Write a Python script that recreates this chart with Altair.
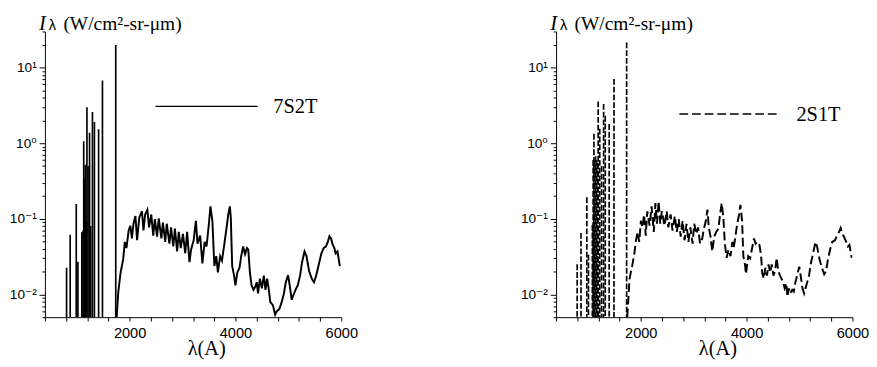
import altair as alt
import pandas as pd

# ---------------- data ----------------
# Panel 1: 7S2T  (solid)
spk1_wl = [809, 877, 992, 1023, 1097, 1120, 1133, 1150, 1163, 1180, 1194, 1215, 1243, 1265, 1298, 1335, 1414, 1487, 1738]
spk1_val = [0.0225, 0.0615, 0.157, 0.027, 0.0665, 0.07, 1.06, 0.35, 0.52, 0.09, 2.98, 0.5, 1.37, 0.08, 2.58, 1.9, 1.53, 6.76, 19.9]

cont1_wl = [1756, 1786, 1830, 1878, 1909, 1940, 1982, 2013, 2043, 2073, 2110, 2141, 2183, 2233, 2262,
            2293, 2336, 2367, 2409, 2446, 2477, 2519, 2550, 2600, 2629, 2673, 2702, 2752, 2783, 2825,
            2856, 2898, 2929, 2966, 3008, 3051, 3087, 3131, 3161, 3210, 3252, 3283, 3333, 3375, 3417,
            3454, 3498, 3527, 3564, 3601, 3637, 3668, 3710, 3745, 3791, 3833, 3864, 3894, 3912, 3938,
            3974, 3998, 4035, 4077, 4108, 4145, 4181, 4218, 4242, 4273, 4304, 4341, 4371, 4402, 4426,
            4462, 4499, 4536, 4567, 4598, 4627, 4658, 4707, 4750, 4781, 4829, 4873, 4915, 4951, 4994,
            5025, 5062, 5098, 5135, 5177, 5221, 5258, 5305, 5342, 5391, 5441, 5483, 5525, 5575, 5624,
            5666, 5708, 5745, 5776, 5807, 5831, 5868, 5892, 5928, 5972]
cont1_val = [0.005, 0.0108, 0.0195, 0.029, 0.0495, 0.041, 0.070, 0.081, 0.055, 0.086, 0.109, 0.052, 0.104, 0.126, 0.070,
             0.114, 0.132, 0.077, 0.114, 0.060, 0.099, 0.058, 0.101, 0.055, 0.089, 0.0495, 0.086, 0.047, 0.077, 0.043,
             0.074, 0.037, 0.067, 0.041, 0.063, 0.035, 0.067, 0.0267, 0.039, 0.052, 0.094, 0.047, 0.060, 0.0257, 0.0495,
             0.043, 0.086, 0.146, 0.094, 0.0237, 0.032, 0.0195, 0.032, 0.028, 0.047, 0.077, 0.114, 0.146, 0.104, 0.0237,
             0.0177, 0.0132, 0.0195, 0.0225, 0.032, 0.043, 0.034, 0.041, 0.039, 0.0195, 0.0132, 0.0115, 0.0125, 0.0145, 0.0103,
             0.0162, 0.012, 0.0177, 0.0115, 0.0162, 0.012, 0.0079, 0.0072, 0.0054, 0.006, 0.0064, 0.0079, 0.0103, 0.0145, 0.018,
             0.0132, 0.0085, 0.0099, 0.0115, 0.0132, 0.0177, 0.0267, 0.037, 0.032, 0.0204, 0.0162, 0.0145, 0.0177, 0.025, 0.035,
             0.041, 0.043, 0.0495, 0.059, 0.055, 0.047, 0.041, 0.035, 0.037, 0.0237]

# Panel 2: 2S1T  (dashed)
spk2_wl = [798, 871, 981, 1012, 1085, 1100, 1115, 1130, 1146, 1165, 1180, 1195, 1225, 1260, 1298, 1329, 1403, 1494, 1733]
spk2_val = [0.025, 0.065, 0.192, 0.0335, 0.083, 0.6, 1.33, 0.6, 0.67, 0.6, 0.55, 3.57, 1.55, 0.5, 3.3, 2.3, 1.79, 7.08, 21.5]

cont2_wl = [1745, 1788, 1837, 1879, 1910, 1940, 1971, 2002, 2031, 2063, 2094, 2123, 2167, 2204, 2246,
            2277, 2306, 2337, 2369, 2398, 2448, 2490, 2521, 2563, 2600, 2644, 2680, 2717, 2754, 2790,
            2827, 2864, 2900, 2937, 2979, 3010, 3052, 3083, 3120, 3162, 3193, 3230, 3260, 3285, 3315,
            3351, 3388, 3424, 3468, 3498, 3529, 3560, 3589, 3621, 3658, 3694, 3731, 3755, 3791, 3822,
            3853, 3883, 3914, 3938, 3969, 3987, 4030, 4066, 4110, 4139, 4170, 4212, 4243, 4275, 4293,
            4323, 4354, 4385, 4414, 4445, 4476, 4506, 4537, 4568, 4597, 4628, 4659, 4689, 4720, 4751,
            4770, 4799, 4824, 4861, 4891, 4922, 4953, 4995, 5026, 5056, 5087, 5129, 5179, 5210, 5252,
            5301, 5331, 5375, 5422, 5466, 5503, 5532, 5576, 5618, 5668, 5710, 5747, 5778, 5807, 5838,
            5881, 5912, 5943, 5985]
cont2_val = [0.005, 0.0162, 0.0237, 0.035, 0.052, 0.067, 0.0495, 0.094, 0.077, 0.114, 0.060, 0.126, 0.081, 0.146, 0.067,
             0.161, 0.086, 0.17, 0.086, 0.126, 0.081, 0.126, 0.077, 0.114, 0.070, 0.109, 0.067, 0.099, 0.058, 0.094,
             0.052, 0.086, 0.0495, 0.077, 0.047, 0.086, 0.063, 0.077, 0.047, 0.055, 0.074, 0.094, 0.132, 0.077, 0.060,
             0.037, 0.058, 0.067, 0.074, 0.114, 0.161, 0.104, 0.047, 0.0305, 0.039, 0.032, 0.0495, 0.041, 0.060, 0.086,
             0.109, 0.153, 0.094, 0.032, 0.025, 0.0186, 0.032, 0.030, 0.043, 0.055, 0.047, 0.0495, 0.045, 0.032, 0.0195,
             0.0162, 0.0225, 0.0177, 0.025, 0.0195, 0.025, 0.0177, 0.0204, 0.0305, 0.0204, 0.018, 0.0162, 0.0145, 0.012, 0.014,
             0.0093, 0.012, 0.0103, 0.0115, 0.0109, 0.0145, 0.0177, 0.0233, 0.0168, 0.012, 0.0103, 0.0132, 0.0177, 0.025, 0.034,
             0.0495, 0.043, 0.0295, 0.0225, 0.0185, 0.0204, 0.028, 0.039, 0.0495, 0.052, 0.060, 0.067, 0.0755, 0.063, 0.058,
             0.0495, 0.043, 0.045, 0.0305]

series_labels = ["7S2T", "2S1T"]
y_title_parts = ["I", "\u03bb", "(W/cm\u00b2-sr-\u03bcm)"]
x_title = "\u03bb(A)"

# legend sample positions (data units)
leg1 = dict(x=2490, x2=4420, y=3.07, tx=4713)
leg2 = dict(x=2730, x2=4640, y=2.43, tx=4940)

# axis tick positions
x_ticks = list(range(400, 6001, 400))
y_ticks = [m * 10 ** e for e in range(-3, 2) for m in range(1, 10)]
y_ticks = [v for v in y_ticks if 0.005 <= v <= 30] + [20, 30]

W, H = 305, 294
SERIF = "Times New Roman, Liberation Serif, DejaVu Serif, serif"
SANS = "Arial, Liberation Sans, DejaVu Sans, sans-serif"

major_test = "datum.value == 10 || datum.value == 1 || datum.value == 0.1 || datum.value == 0.01"
y_label_expr = ("datum.value == 10 ? '10\u00b9' : datum.value == 1 ? '10\u2070' : "
                "datum.value == 0.1 ? '10\u207b\u00b9' : datum.value == 0.01 ? '10\u207b\u00b2' : ''")


def panel(spk_wl, spk_val, cont_wl, cont_val, leg, label, dash):
    xs = alt.Scale(domain=[400, 6000], nice=False, zero=False)
    ys = alt.Scale(type="log", domain=[0.005, 30], nice=False)
    xaxis = alt.Axis(values=x_ticks, format="d",
                     labelExpr="datum.value % 2000 == 0 ? datum.label : ''",
                     labelFlush=False, labelFont=SANS, labelFontSize=15, labelPadding=5,
                     tickSize=4, title=x_title, titleFont=SERIF, titleFontSize=21,
                     titleFontWeight="normal", titleX=166, titleY=38, titleAlign="center",
                     titleBaseline="alphabetic", grid=False)
    yaxis = alt.Axis(values=y_ticks, labelExpr=y_label_expr, labelFont=SANS, labelFontSize=14,
                     labelPadding=3,
                     tickSize={"condition": {"test": major_test, "value": 6}, "value": 3},
                     title=None, grid=False)

    X = lambda f: alt.X(f, scale=xs, axis=xaxis)
    Y = lambda f: alt.Y(f, scale=ys, axis=yaxis)

    dash_props = {"strokeDash": [9, 4]} if dash else {}

    cont = alt.Chart(pd.DataFrame({"wl": cont_wl, "val": cont_val})).mark_line(
        color="black", strokeWidth=2.0, clip=True, **dash_props
    ).encode(x=X("wl:Q"), y=Y("val:Q"))

    spikes = alt.Chart(pd.DataFrame({"wl": spk_wl, "val": spk_val})).mark_rule(
        color="black", strokeWidth=1.7, clip=True, **({"strokeDash": [6, 2]} if dash else {})
    ).encode(x=X("wl:Q"), y=Y("val:Q"), y2=alt.datum(0.005))

    leg_df = pd.DataFrame({"x": [leg["x"]], "x2": [leg["x2"]], "y": [leg["y"]],
                           "tx": [leg["tx"]], "label": [label]})
    leg_line = alt.Chart(leg_df).mark_rule(color="black", strokeWidth=1.4, **dash_props).encode(
        x=X("x:Q"), x2="x2:Q", y=Y("y:Q"))
    leg_text = alt.Chart(leg_df).mark_text(
        font=SERIF, fontSize=21, align="left", baseline="middle", dy=1, color="black"
    ).encode(x=X("tx:Q"), y=Y("y:Q"), text="label:N")

    t_df = pd.DataFrame({"t": y_title_parts})
    t_I = alt.Chart(t_df.iloc[[0]]).mark_text(
        font=SERIF, fontSize=21, fontStyle="italic", align="left", baseline="alphabetic", color="black"
    ).encode(text="t:N", x=alt.value(-6), y=alt.value(-2))
    t_lam = alt.Chart(t_df.iloc[[1]]).mark_text(
        font=SANS, fontSize=15, align="left", baseline="alphabetic", color="black"
    ).encode(text="t:N", x=alt.value(4), y=alt.value(-2))
    t_unit = alt.Chart(t_df.iloc[[2]]).mark_text(
        font=SERIF, fontSize=20, align="left", baseline="alphabetic", color="black"
    ).encode(text="t:N", x=alt.value(19), y=alt.value(-2))

    return alt.layer(cont, spikes, leg_line, leg_text, t_I, t_lam, t_unit).properties(width=W, height=H)


left = panel(spk1_wl, spk1_val, cont1_wl, cont1_val, leg1, series_labels[0], False)
right = panel(spk2_wl, spk2_val, cont2_wl, cont2_val, leg2, series_labels[1], True)

chart = alt.hconcat(left, right, spacing=167).properties(
    padding={"left": 1, "top": 0, "right": 0, "bottom": 0}
).configure_view(stroke=None).configure_axis(
    domainColor="black", tickColor="black", labelColor="black", titleColor="black",
    domainWidth=1, tickWidth=1
)

chart.save("out.html", embed_options={"renderer": "svg", "actions": False})
